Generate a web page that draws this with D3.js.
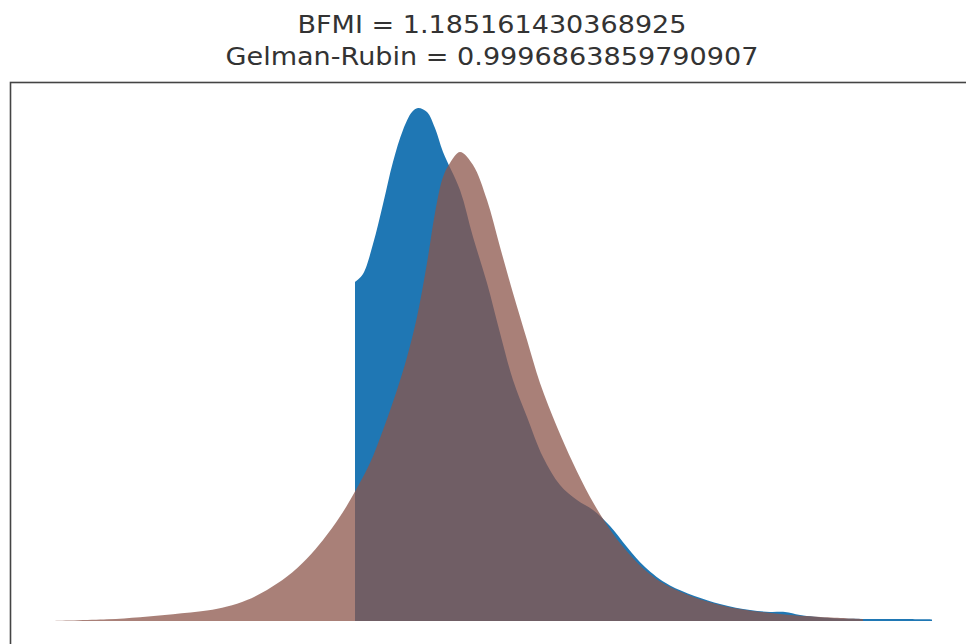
<!DOCTYPE html>
<html>
<head>
<meta charset="utf-8">
<title>Energy plot</title>
<style>
  body { margin: 0; background: #fff; }
  svg { display: block; }
</style>
</head>
<body>
<div class="plot_container"></div>
<script src="https://cdn.jsdelivr.net/npm/d3@7"></script>
<script>
// title lines
var titles = ["BFMI = 1.185161430368925", "Gelman-Rubin = 0.9996863859790907"];
var series = ["Energy transition", "Marginal energy"];

// marginal energy (blue), kde
var marginalX = [0, 0.133, 0.3, 0.467, 0.633, 0.8, 0.95, 1.05, 1.2, 1.333, 1.467, 1.75, 1.967,
    2.2, 2.417, 2.633, 2.867, 3.133, 3.417, 3.7, 3.967, 4.25, 4.533, 4.833, 5.25, 6.083, 6.583,
    6.917, 7.167, 7.417, 7.917, 8.467, 9.083, 9.617];
var marginalD = [0.1695, 0.1735, 0.1885, 0.2085, 0.2295, 0.2455, 0.2545, 0.2565, 0.2545, 0.2465, 0.2345, 0.2155, 0.192,
    0.169, 0.144, 0.1205, 0.102, 0.082, 0.068, 0.0605, 0.0555, 0.0475, 0.037, 0.027, 0.0178, 0.0085, 0.0055,
    0.0045, 0.0045, 0.003, 0.0015, 0.001, 0.001, 0.0008];

// energy transition (brown)
var transitionX = [-5.033, -4.133, -3.583, -3.033, -2.467, -2.133, -1.8, -1.467, -1.133, -0.8, -0.533, -0.25,
    -0.033, 0.25, 0.467, 0.7, 0.867, 1.033, 1.2, 1.333, 1.467, 1.583, 1.75, 1.967, 2.2, 2.417, 2.633,
    2.867, 3.083, 3.367, 3.633, 3.917, 4.2, 4.417, 4.833, 5.25, 6.083, 7.083, 8.467];
var transitionD = [0, 0.00085, 0.0019, 0.0034, 0.0052, 0.0072, 0.0105, 0.0155, 0.0222, 0.0313, 0.0405, 0.0522,
    0.063, 0.079, 0.0955, 0.1155, 0.132, 0.152, 0.179, 0.204, 0.222, 0.229, 0.2345, 0.228, 0.2105, 0.187, 0.164,
    0.1405, 0.119, 0.097, 0.079, 0.062, 0.048, 0.039, 0.0255, 0.017, 0.008, 0.0035, 0.001];

var width = 966, height = 644;
var colors = ["#8c564b", "#1f77b4"];

var svg = d3.select(".plot_container").append("svg")
    .attr("width", width)
    .attr("height", height);

var x = d3.scaleLinear().domain([-5, 10]).range([55, 955]);
var y = d3.scaleLinear().domain([0, 0.3]).range([621, 21]);

// axes frame (right and bottom edges fall outside the picture)
svg.append("rect")
    .attr("x", 10.5).attr("y", 82.5)
    .attr("width", 1000).attr("height", 700)
    .attr("fill", "none")
    .attr("stroke", "#444")
    .attr("stroke-width", 1.6);

var area = d3.area()
    .x(function(d){ return x(d[0]); })
    .y0(y(0))
    .y1(function(d){ return y(Math.max(0, d[1])); })
    .curve(d3.curveCatmullRom.alpha(0.5));

var marginal = d3.zip(marginalX, marginalD);
var transition = d3.zip(transitionX, transitionD);

svg.append("path")
    .datum(marginal)
    .attr("d", area)
    .attr("fill", colors[1]);

svg.append("path")
    .datum(transition)
    .attr("d", area)
    .attr("fill", colors[0])
    .attr("fill-opacity", 0.75);

// title
var titleLen = [389, 533];
svg.selectAll(".title")
    .data(titles)
    .enter()
    .append("text")
    .attr("class", "title")
    .attr("x", 492)
    .attr("y", function(d, i){ return 33 + i*32; })
    .attr("text-anchor", "middle")
    .attr("textLength", function(d, i){ return titleLen[i]; })
    .attr("lengthAdjust", "spacingAndGlyphs")
    .style("font-family", "DejaVu Sans")
    .style("font-size", "25px")
    .style("fill", "#333")
    .text(function(d){ return d; });
</script>
</body>
</html>
